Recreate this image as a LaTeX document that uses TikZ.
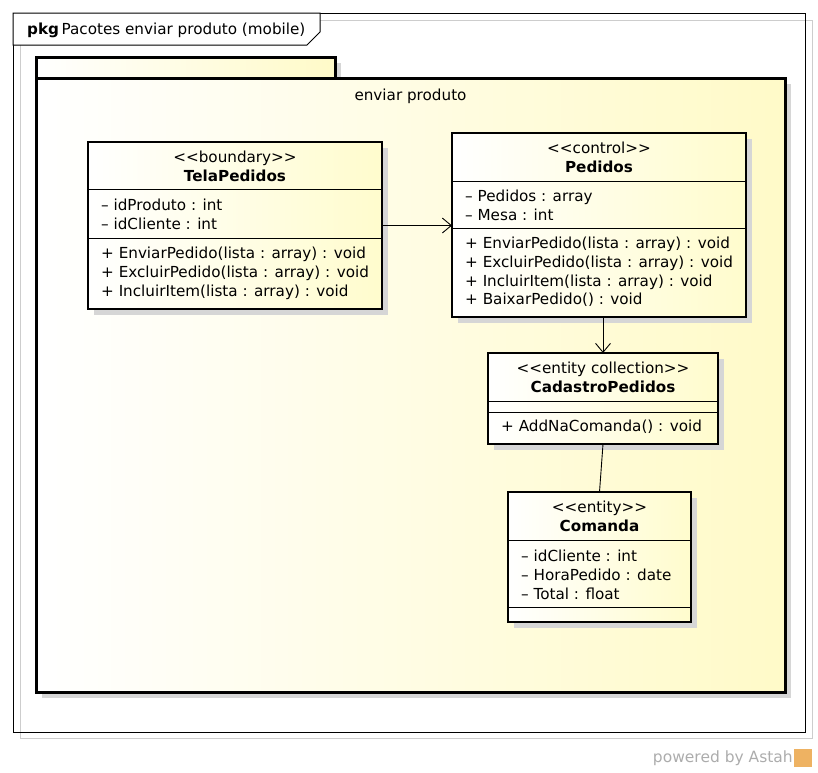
\documentclass[tikz,border=0pt]{standalone}
\usepackage{fontspec}
\setmainfont{DejaVu Sans}
\usetikzlibrary{arrows.meta, positioning, calc, shadows}
\definecolor{classyellow}{RGB}{255,252,205}
\definecolor{pkgyellow}{RGB}{255,250,200}
\definecolor{shadowgray}{RGB}{214,214,214}
\definecolor{framegray}{RGB}{205,205,205}
\definecolor{astahgray}{RGB}{172,172,172}
\definecolor{astahorange}{RGB}{238,178,98}

\begin{document}
\begin{tikzpicture}[
    x=1pt, y=-1pt,
    font=\fontsize{15.2}{18.7}\selectfont,
    classbox/.style={draw, line width=2.8pt, left color=white, right color=classyellow, anchor=north west, outer sep=0pt, inner sep=0pt, drop shadow={shadow xshift=6pt, shadow yshift=-6pt, fill=shadowgray, opacity=1}},
    pkgbox/.style={draw, line width=3pt, left color=white, right color=pkgyellow, anchor=north west, outer sep=0pt, inner sep=0pt, drop shadow={shadow xshift=6pt, shadow yshift=-6pt, fill=shadowgray, opacity=1}},
    headtxt/.style={align=center, inner sep=0pt},
    membertxt/.style={align=left, inner sep=0pt},
    divider/.style={line width=0.8pt},
    assoc/.style={-{Straight Barb[length=9pt, width=15pt]}, line width=0.9pt},
    link/.style={line width=0.9pt}
]
\useasboundingbox (0,0) rectangle (818,772);

% Frame
\draw[framegray, line width=1pt] (20,20) rectangle (812,738);
\node[draw, line width=1pt, anchor=north west, outer sep=0pt, inner sep=0pt, minimum width=792pt, minimum height=719pt] (frame) at (13,13) {};
\filldraw[fill=white, line width=1pt] (frame.north west) -- (320,13) -- (320,32) -- (307,45) -- (13,45) -- cycle;
\node[anchor=west, inner sep=0pt] (framelabel) at (27,30) {\textbf{pkg}\,Pacotes enviar produto (mobile)};

% Package
\node[pkgbox, minimum width=299pt, minimum height=21pt] (pkgtab) at (36,57) {};
\node[pkgbox, minimum width=749pt, minimum height=614pt] (pkg) at (36,78) {};
\node[headtxt, below=11pt of pkg.north] (pkglabel) {enviar produto};

% TelaPedidos
\node[classbox, minimum width=294pt, minimum height=167pt] (tela) at (88,142) {};
\coordinate (telaD1) at ($(tela.north west)+(0,47)$);
\coordinate (telaD2) at ($(tela.north west)+(0,96)$);
\draw[divider] (telaD1) -- (telaD1 -| tela.east);
\draw[divider] (telaD2) -- (telaD2 -| tela.east);
\node[headtxt, below=9pt of tela.north] (telaHead) {<{}<boundary>{}>\\\textbf{TelaPedidos}};
\node[membertxt, below right=10pt and 13pt of telaD1] (telaAttr) {-- idProduto : int\\-- idCliente : int};
\node[membertxt, below right=9pt and 13pt of telaD2] (telaOps) {+ EnviarPedido(lista : array) : void\\+ ExcluirPedido(lista : array) : void\\+ IncluirItem(lista : array) : void};

% Pedidos
\node[classbox, minimum width=294pt, minimum height=184pt] (pedidos) at (452,133) {};
\coordinate (pedidosD1) at ($(pedidos.north west)+(0,48)$);
\coordinate (pedidosD2) at ($(pedidos.north west)+(0,95)$);
\draw[divider] (pedidosD1) -- (pedidosD1 -| pedidos.east);
\draw[divider] (pedidosD2) -- (pedidosD2 -| pedidos.east);
\node[headtxt, below=9pt of pedidos.north] (pedidosHead) {<{}<control>{}>\\\textbf{Pedidos}};
\node[membertxt, below right=9pt and 13pt of pedidosD1] (pedidosAttr) {-- Pedidos : array\\-- Mesa : int};
\node[membertxt, below right=9pt and 13pt of pedidosD2] (pedidosOps) {+ EnviarPedido(lista : array) : void\\+ ExcluirPedido(lista : array) : void\\+ IncluirItem(lista : array) : void\\+ BaixarPedido() : void};

% CadastroPedidos
\node[classbox, minimum width=230pt, minimum height=91pt] (cadastro) at (488,353) {};
\coordinate (cadastroD1) at ($(cadastro.north west)+(0,48)$);
\coordinate (cadastroD2) at ($(cadastro.north west)+(0,59)$);
\draw[divider] (cadastroD1) -- (cadastroD1 -| cadastro.east);
\draw[divider] (cadastroD2) -- (cadastroD2 -| cadastro.east);
\node[headtxt, below=9pt of cadastro.north] (cadastroHead) {<{}<entity collection>{}>\\\textbf{CadastroPedidos}};
\node[membertxt, below right=8pt and 13pt of cadastroD2] (cadastroOps) {+ AddNaComanda() : void};

% Comanda
\node[classbox, minimum width=183pt, minimum height=130pt] (comanda) at (508,492) {};
\coordinate (comandaD1) at ($(comanda.north west)+(0,48)$);
\coordinate (comandaD2) at ($(comanda.north west)+(0,115)$);
\draw[divider] (comandaD1) -- (comandaD1 -| comanda.east);
\draw[divider] (comandaD2) -- (comandaD2 -| comanda.east);
\node[headtxt, below=9pt of comanda.north] (comandaHead) {<{}<entity>{}>\\\textbf{Comanda}};
\node[membertxt, below right=10pt and 13pt of comandaD1] (comandaAttr) {-- idCliente : int\\-- HoraPedido : date\\-- Total : float};

% Associations
\draw[assoc] (tela.east) -- (pedidos.west |- tela.east);
\draw[assoc] (pedidos.south -| cadastro.north) -- (cadastro.north);
\draw[link] (cadastro.south) -- (comanda.north);

% Footer
\node[anchor=east, inner sep=0pt, text=astahgray, font=\fontsize{15.5}{18}\selectfont] (powered) at (793,758) {powered by Astah};
\node[fill=astahorange, inner sep=0pt, minimum size=18pt, right=1pt of powered] (astahlogo) {};

\end{tikzpicture}
\end{document}
